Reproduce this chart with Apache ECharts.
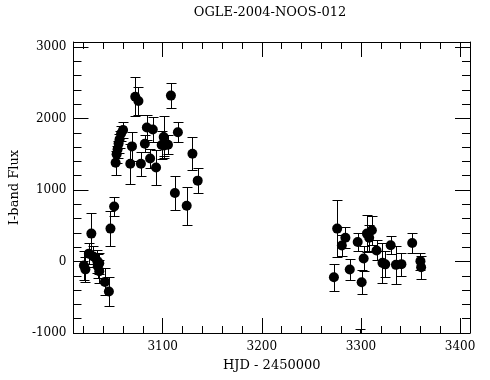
<!DOCTYPE html>
<html>
<head>
<meta charset="utf-8">
<script src="https://cdn.jsdelivr.net/npm/echarts@6/dist/echarts.min.js"></script>
<style>html,body{margin:0;padding:0;background:#fff}#c{width:490px;height:380px}</style>
</head>
<body>
<div id="c"></div>
<script>
const titleText = 'OGLE-2004-NOOS-012';
const xName = 'HJD - 2450000';
const yName = 'I-band Flux';

const hjd = [3020.5, 3022, 3025.5, 3028, 3030, 3034, 3034.5, 3036, 3036, 3041.7, 3045.7, 3047.3, 3051,
  3052.5, 3053.5, 3054.5, 3055.5, 3056.5, 3058, 3060, 3067.3, 3069, 3072.3, 3075.5, 3078, 3082, 3084,
  3087.3, 3090, 3093.3, 3099, 3101, 3101.5, 3105.3, 3108.3, 3112.3, 3115.3, 3124.2, 3130, 3135.3,
  3272.7, 3276, 3280.7, 3284.3, 3288.7, 3296.7, 3299.5, 3300.7, 3302.7, 3306, 3308.3, 3311, 3315.7,
  3321.7, 3324.5, 3330, 3335.3, 3340.8, 3351.7, 3360, 3360.7];
const flux = [-55, -110, 110, 390, 70, 5, -65, -25, -135, -285, -420, 460, 770,
  1380, 1500, 1570, 1650, 1710, 1790, 1840, 1366, 1610, 2305, 2245, 1366, 1648, 1875,
  1440, 1847, 1314, 1630, 1740, 1624, 1634, 2320, 958, 1808, 779, 1507, 1131,
  -221, 460, 225, 333, -113, 272, -1200, -290, 42, 390, 333, 437, 155,
  -19, -40, 228, -47, -37, 258, 5, -80];
const err = [200, 170, 150, 290, 150, 160, 170, 150, 160, 190, 200, 240, 130,
  170, 120, 120, 130, 120, 110, 110, 280, 200, 270, 200, 170, 120, 180,
  130, 180, 250, 200, 290, 150, 130, 180, 240, 140, 265, 230, 170,
  190, 400, 150, 150, 150, 130, 260, 165, 170, 260, 180, 200, 140,
  280, 180, 130, 270, 160, 135, 120, 160];

const xMajor = [3100, 3200, 3300, 3400];
const xMinor = [3020, 3040, 3060, 3080, 3120, 3140, 3160, 3180, 3220, 3240, 3260, 3280, 3320, 3340, 3360, 3380];
const yMajor = [-1000, 0, 1000, 2000, 3000];
const yMinor = [-800, -600, -400, -200, 200, 400, 600, 800, 1200, 1400, 1600, 1800, 2200, 2400, 2600, 2800];

const FONT = 'DejaVu Serif';
const X_MIN = 3010, X_MAX = 3410, Y_MIN = -1000, Y_MAX = 3070;
const lineStyle = { color: '#000', width: 1 };

const points = hjd.map((x, i) => [x, flux[i]]);
const bars = hjd.map((x, i) => [x, flux[i] - err[i], flux[i] + err[i]]);

function xAx(pos, vals, len, main) {
  return {
    type: 'value', position: pos, min: X_MIN, max: X_MAX,
    axisLine: { show: main, onZero: false, lineStyle },
    axisTick: { show: true, inside: true, length: len, customValues: vals, lineStyle },
    axisLabel: (main && pos === 'bottom') ? { show: true, customValues: xMajor, formatter: v => String(v),
      fontFamily: FONT, fontSize: 12, color: '#000', margin: 8 } : { show: false },
    splitLine: { show: false },
    name: (main && pos === 'bottom') ? xName : '',
    nameLocation: 'middle', nameGap: 26,
    nameTextStyle: { fontFamily: FONT, fontSize: 13, color: '#000' }
  };
}
function yAx(pos, vals, len, main) {
  return {
    type: 'value', position: pos, min: Y_MIN, max: Y_MAX,
    axisLine: { show: main, onZero: false, lineStyle },
    axisTick: { show: true, inside: true, length: len, customValues: vals, lineStyle },
    axisLabel: (main && pos === 'left') ? { show: true, customValues: yMajor, formatter: v => String(v),
      fontFamily: FONT, fontSize: 12, color: '#000', margin: 7 } : { show: false },
    splitLine: { show: false },
    name: (main && pos === 'left') ? yName : '',
    nameLocation: 'middle', nameGap: 45,
    nameTextStyle: { fontFamily: FONT, fontSize: 13, color: '#000' }
  };
}

const chart = echarts.init(document.getElementById('c'), null, { renderer: 'canvas' });
chart.setOption({
  animation: false,
  backgroundColor: '#fff',
  grid: { left: 70, right: 20, top: 42, bottom: 47, containLabel: false },
  graphic: [{
    type: 'text', x: 270, y: 13,
    style: { text: titleText, align: 'center', verticalAlign: 'middle', font: '13px "' + FONT + '"', fill: '#000' }
  }],
  xAxis: [
    xAx('bottom', xMajor, 15, true),
    xAx('bottom', xMinor, 7, false),
    xAx('top', xMajor, 15, true),
    xAx('top', xMinor, 7, false)
  ],
  yAxis: [
    yAx('left', yMajor, 15, true),
    yAx('left', yMinor, 8, false),
    yAx('right', yMajor, 15, true),
    yAx('right', yMinor, 8, false)
  ],
  series: [
    {
      type: 'custom', xAxisIndex: 0, yAxisIndex: 0, clip: true,
      data: bars,
      encode: { x: 0, y: [1, 2] },
      renderItem: function (params, api) {
        const x = api.value(0);
        const lo = api.coord([x, api.value(1)]);
        const hi = api.coord([x, api.value(2)]);
        const cx = Math.round(lo[0]) + 0.5;
        const yl = Math.round(lo[1]) + 0.5;
        const yh = Math.round(hi[1]) + 0.5;
        const hw = 5;
        const st = { stroke: '#000', lineWidth: 1 };
        return {
          type: 'group', children: [
            { type: 'line', shape: { x1: cx, y1: yl, x2: cx, y2: yh }, style: st },
            { type: 'line', shape: { x1: cx - hw, y1: yl, x2: cx + hw, y2: yl }, style: st },
            { type: 'line', shape: { x1: cx - hw, y1: yh, x2: cx + hw, y2: yh }, style: st }
          ]
        };
      }
    },
    {
      type: 'scatter', xAxisIndex: 0, yAxisIndex: 0, clip: true,
      data: points, symbol: 'circle', symbolSize: 10,
      itemStyle: { color: '#000', opacity: 1 },
      emphasis: { disabled: true }
    }
  ]
});
</script>
</body>
</html>
